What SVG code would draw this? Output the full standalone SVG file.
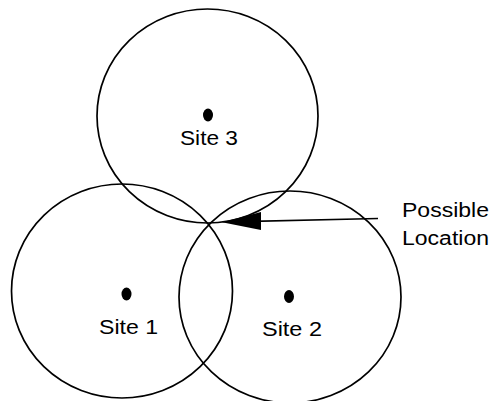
<svg xmlns="http://www.w3.org/2000/svg" width="491" height="401" viewBox="0 0 491 401">
<style>
.ring{fill:none;stroke:#000;stroke-width:1.7}
.dot{fill:#000}
.lbl{font-family:"Liberation Sans",Arial,sans-serif;font-size:20px;fill:#000}
.conn{stroke:#000;stroke-width:1.7;fill:none}
</style>
<rect width="491" height="401" fill="#fff"/>
<g id="site3">
<ellipse class="ring" cx="207.5" cy="116" rx="110.5" ry="107"/>
<ellipse class="dot" cx="208" cy="115" rx="5" ry="6.5"/>
<text class="lbl" x="180" y="144.5" textLength="58" lengthAdjust="spacingAndGlyphs">Site 3</text>
</g>
<g id="site1">
<ellipse class="ring" cx="122" cy="291" rx="110.5" ry="107"/>
<ellipse class="dot" cx="126.5" cy="294" rx="5" ry="6.5"/>
<text class="lbl" x="99" y="333.5" textLength="59" lengthAdjust="spacingAndGlyphs">Site 1</text>
</g>
<g id="site2">
<ellipse class="ring" cx="290" cy="297" rx="111" ry="106"/>
<ellipse class="dot" cx="289" cy="296.5" rx="5" ry="6.5"/>
<text class="lbl" x="262" y="336" textLength="60" lengthAdjust="spacingAndGlyphs">Site 2</text>
</g>
<g id="possible-location">
<text class="lbl" x="402" y="217" textLength="87" lengthAdjust="spacingAndGlyphs">Possible</text>
<text class="lbl" x="402" y="245" textLength="87" lengthAdjust="spacingAndGlyphs">Location</text>
</g>
<g id="connectors">
<line class="conn" x1="378" y1="218.5" x2="230" y2="221.8"/>
<polygon class="dot" points="222,222.2 261,212 261,230"/>
</g>
</svg>
